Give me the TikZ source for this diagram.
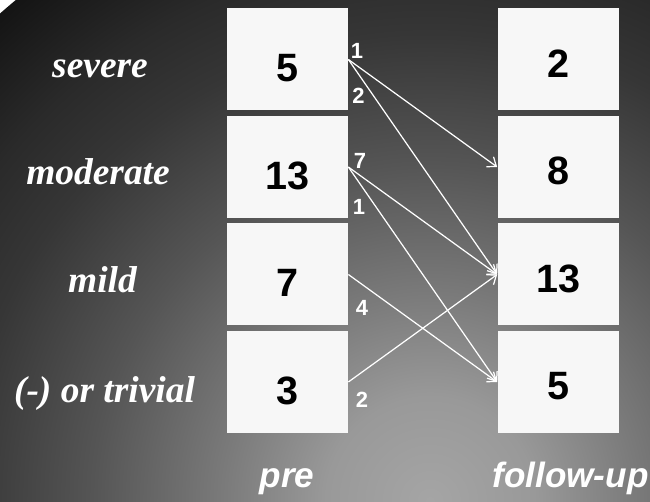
\documentclass[tikz,border=0pt]{standalone}
\usepackage{fontspec}
\setmainfont{Liberation Serif}
\newfontfamily\numfont{Liberation Sans}
\usetikzlibrary{arrows.meta,positioning}

\definecolor{bgA}{HTML}{A5A5A5}
\definecolor{bgB}{HTML}{999999}
\definecolor{bgC}{HTML}{7A7A7A}
\definecolor{bgD}{HTML}{555555}
\definecolor{bgE}{HTML}{363636}
\definecolor{bgF}{HTML}{2A2A2A}
\definecolor{bgG}{HTML}{141414}
\pgfdeclareradialshading{backdrop}{\pgfpoint{0bp}{0bp}}{color(0bp)=(bgA); color(4bp)=(bgB); color(8bp)=(bgC); color(13bp)=(bgD); color(18bp)=(bgE); color(21bp)=(bgF); color(25bp)=(bgG); color(50bp)=(bgG)}

\begin{document}
\begin{tikzpicture}[
            cell/.style={rectangle, fill=gray!6, minimum width=2.42cm, minimum height=2.04cm, inner sep=0pt, text=black, font=\numfont\bfseries\fontsize{22.5}{27}\selectfont},
            precell/.style={cell, text height=0.90cm, text depth=0pt},
            fucell/.style={cell, text height=0.72cm, text depth=0pt},
            grade/.style={anchor=base, text=white, font=\bfseries\itshape\fontsize{21.3}{25}\selectfont},
            count/.style={inner sep=0pt, text=white, font=\numfont\bfseries\fontsize{12.5}{14}\selectfont},
            stage/.style={anchor=base, text=white, font=\numfont\bfseries\itshape\fontsize{20}{24}\selectfont},
            arrow/.style={-{Straight Barb[length=4.5pt,width=7pt]}, white, line width=0.7pt}
        ]
            \useasboundingbox (0,0) rectangle (13,10.02);
            \begin{scope}
                \clip (0,0) rectangle (13,10.02);
                \shade[shading=backdrop] (8.6,0) circle (13);
            \end{scope}

            \node[precell] (presev) at (5.75,8.83) {5};
            \node[precell] (premod) at (5.75,6.68) {13};
            \node[precell] (premild) at (5.75,4.53) {7};
            \node[precell] (pretriv) at (5.75,2.38) {3};

            \node[fucell] (fusev) at (11.16,8.83) {2};
            \node[fucell] (fumod) at (11.16,6.68) {8};
            \node[fucell] (fumild) at (11.16,4.53) {13};
            \node[fucell] (futriv) at (11.16,2.38) {5};

            \draw[arrow] (presev.east) -- (fumod.west);
            \draw[arrow] (presev.east) -- (fumild.west);
            \draw[arrow] (premod.east) -- (fumild.west);
            \draw[arrow] (premod.east) -- (futriv.west);
            \draw[arrow] (premild.east) -- (futriv.west);
            \draw[arrow] (pretriv.east) -- (fumild.west);

            % Grade labels
            \node[grade] (lsev) at (2.0,8.46) {severe};
            \node[grade] (lmod) at (1.96,6.32) {moderate};
            \node[grade] (lmild) at (2.05,4.16) {mild};
            \node[grade] (ltriv) at (2.09,1.96) {(-) or trivial};

            % Transition counts
            \node[count] (c1) at (7.14,9.0) {1};
            \node[count] (c2) at (7.17,8.10) {2};
            \node[count] (c3) at (7.20,6.80) {7};
            \node[count] (c4) at (7.18,5.88) {1};
            \node[count] (c5) at (7.24,3.86) {4};
            \node[count] (c6) at (7.24,2.02) {2};

            % Column labels
            \node[stage] (lpre) at (5.74,0.28) {pre};
            \node[stage] (lfu) at (11.41,0.28) {follow-up};
        \end{tikzpicture}
\end{document}
